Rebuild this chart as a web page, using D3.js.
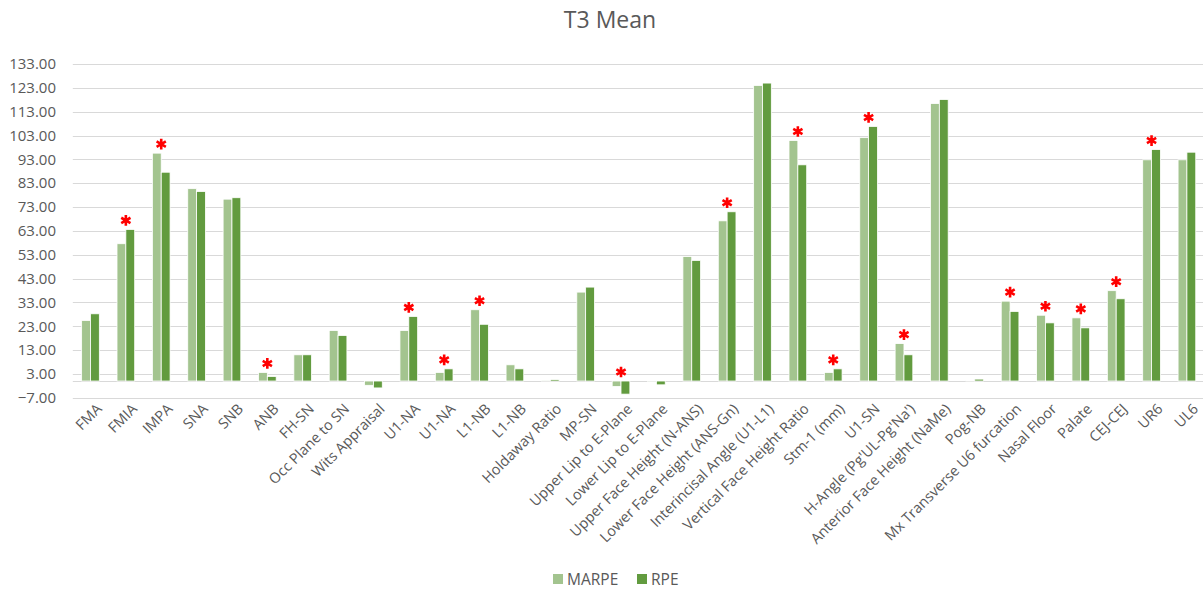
<!DOCTYPE html>
<html>
<head>
<meta charset="utf-8">
<script src="https://cdn.jsdelivr.net/npm/d3@7"></script>
<style>
  body { margin: 0; background: #fff; }
  text { font-family: "Open Sans", sans-serif; fill: #595959; }
</style>
</head>
<body>
<div id="chart"></div>
<script>
(function() {
  // categories (some labels repeat in the original chart)
  var categories = ["FMA", "FMIA", "IMPA", "SNA", "SNB", "ANB", "FH-SN", "Occ Plane to SN",
    "Wits Appraisal", "U1-NA", "U1-NA", "L1-NB", "L1-NB", "Holdaway Ratio", "MP-SN",
    "Upper Lip to E-Plane", "Lower Lip to E-Plane", "Upper Face Height (N-ANS)",
    "Lower Face Height (ANS-Gn)", "Interincisal Angle (U1-L1)", "Vertical Face Height Ratio",
    "Stm-1 (mm)", "U1-SN", "H-Angle (Pg'UL-Pg'Na')", "Anterior Face Height (NaMe)", "Pog-NB",
    "Mx Transverse U6 furcation", "Nasal Floor", "Palate", "CEJ-CEJ", "UR6", "UL6"];

  var marpe = [25.4, 57.6, 95.6, 80.7, 76.3, 3.6, 11.0, 21.2, -1.8, 21.2, 3.6, 29.9, 6.8, 0.1, 37.3,
    -2.3, -0.1, 52.2, 67.2, 124.0, 100.9, 3.6, 102.1, 15.7, 116.4, 0.2, 33.5, 27.6, 26.5, 37.9, 92.8, 92.8];

  var rpe = [28.2, 63.6, 87.6, 79.5, 76.9, 1.9, 11.0, 19.1, -2.9, 27.1, 5.1, 23.8, 5.1, 0.6, 39.4,
    -5.5, -1.6, 50.6, 71.0, 125.0, 90.7, 5.1, 106.8, 11.0, 118.1, 0.8, 29.2, 24.4, 22.3, 34.5, 97.1, 96.0];

  // 1 = significant difference (red asterisk)
  var significant = [0, 1, 1, 0, 0, 1, 0, 0, 0, 1, 1, 1, 0, 0, 0,
    1, 0, 0, 1, 0, 1, 1, 1, 1, 0, 0, 1, 1, 1, 1, 1, 0];

  var yTicks = [-7, 3, 13, 23, 33, 43, 53, 63, 73, 83, 93, 103, 113, 123, 133];

  var seriesNames = ["MARPE", "RPE"];
  var colors = { MARPE: "#a3c48f", RPE: "#629b3f" };

  var width = 1203, height = 592;
  var plotLeft = 72.8, plotRight = 1204.6, plotTop = 64, plotBottom = 397.7;

  var svg = d3.select("#chart")
    .append("svg")
    .attr("width", width)
    .attr("height", height);

  var data = categories.map(function(c, i) {
    return { i: i, name: c, MARPE: marpe[i], RPE: rpe[i], sig: significant[i] };
  });

  var x0 = d3.scaleBand()
    .domain(d3.range(categories.length))
    .range([plotLeft, plotRight])
    .paddingInner(0.5)
    .paddingOuter(0.25);

  var x1 = d3.scaleBand()
    .domain(seriesNames)
    .range([0, x0.bandwidth()]);

  var y = d3.scaleLinear()
    .domain([-7, 133])
    .range([plotBottom, plotTop]);

  // title
  svg.append("text")
    .attr("x", 610)
    .attr("y", 28)
    .attr("text-anchor", "middle")
    .style("font-size", "23px")
    .text("T3 Mean");

  // gridlines
  svg.append("g")
    .attr("class", "grid")
    .selectAll("line")
    .data(yTicks)
    .enter().append("line")
    .attr("x1", plotLeft)
    .attr("x2", width)
    .attr("y1", function(d) { return Math.round(y(d)) + 0.5; })
    .attr("y2", function(d) { return Math.round(y(d)) + 0.5; })
    .attr("stroke", "#d9d9d9")
    .attr("stroke-width", 1);

  // y axis labels
  var yAxis = d3.axisLeft(y)
    .tickValues(yTicks)
    .tickSize(0)
    .tickPadding(0)
    .tickFormat(d3.format(".2f"));

  svg.append("g")
    .attr("class", "y-axis")
    .attr("transform", "translate(56,0)")
    .call(yAxis)
    .call(function(g) { g.select(".domain").remove(); })
    .selectAll("text")
    .style("font-size", "15px")
    .style("fill", "#595959");

  // zero line
  svg.append("line")
    .attr("x1", plotLeft)
    .attr("x2", width)
    .attr("y1", Math.round(y(0)) + 0.5)
    .attr("y2", Math.round(y(0)) + 0.5)
    .attr("stroke", "#d9d9d9");

  // bars
  var groups = svg.append("g")
    .selectAll(".group")
    .data(data)
    .enter().append("g")
    .attr("class", "group")
    .attr("transform", function(d) { return "translate(" + x0(d.i) + ",0)"; });

  groups.selectAll("rect")
    .data(function(d) {
      return seriesNames.map(function(s) { return { key: s, value: d[s] }; });
    })
    .enter().append("rect")
    .attr("x", function(d) { return x1(d.key); })
    .attr("width", x1.bandwidth())
    .attr("y", function(d) { return y(Math.max(0, d.value)); })
    .attr("height", function(d) { return Math.abs(y(d.value) - y(0)); })
    .attr("fill", function(d) { return colors[d.key]; })
    .attr("stroke", "#ffffff")
    .attr("stroke-width", 0.8);

  // significance asterisks
  svg.append("g")
    .selectAll(".star")
    .data(data.filter(function(d) { return d.sig; }))
    .enter().append("path")
    .attr("class", "star")
    .attr("d", d3.symbol().type(d3.symbolAsterisk).size(80))
    .attr("transform", function(d) {
      var top = Math.max(0, d.MARPE, d.RPE);
      return "translate(" + (x0(d.i) + x0.bandwidth() / 2) + "," + (y(top) - 9) + ")";
    })
    .attr("fill", "none")
    .attr("stroke", "#ff0000")
    .attr("stroke-width", 2.6);

  // x axis labels, rotated
  svg.append("g")
    .attr("class", "x-labels")
    .selectAll("text")
    .data(data)
    .enter().append("text")
    .attr("transform", function(d) {
      return "translate(" + (x0(d.i) + x0.bandwidth() / 2 + 5) + "," + (plotBottom + 5) + ") rotate(-45)";
    })
    .attr("text-anchor", "end")
    .attr("dy", "0.7em")
    .style("font-size", "14.5px")
    .text(function(d) { return d.name; });

  // legend
  var legend = svg.append("g")
    .attr("transform", "translate(553,574)");

  var legendX = [0, 84];
  seriesNames.forEach(function(s, i) {
    legend.append("rect")
      .attr("x", legendX[i])
      .attr("y", 0)
      .attr("width", 10)
      .attr("height", 10)
      .attr("fill", colors[s]);
    legend.append("text")
      .attr("x", legendX[i] + 14)
      .attr("y", 11)
      .style("font-size", "15.5px")
      .text(s);
  });
})();
</script>
</body>
</html>
